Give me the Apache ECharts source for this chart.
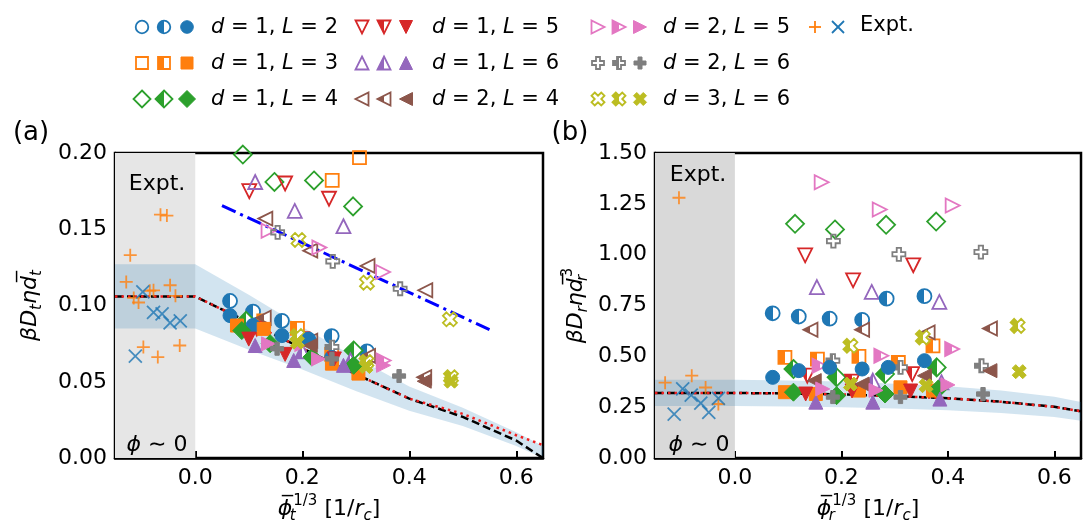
<!DOCTYPE html>
<html><head><meta charset="utf-8">
<script src="https://cdn.jsdelivr.net/npm/echarts@6/dist/echarts.min.js"></script>
<style>html,body{margin:0;padding:0;background:#fff}#c{width:1083px;height:529px}</style>
</head><body><div id="c"></div>
<script>
// ---------------- data ----------------
const xTickVals = [0, 0.2, 0.4, 0.6];
const xRange = [-0.15, 0.65];
const aYRange = [0, 0.2];
const aYStep = 0.05;
const bYRange = [0, 1.5];
const bYStep = 0.25;
const grayX = [-0.15, 0];

const curveX  = [-0.15, 0, 0.1, 0.2, 0.3, 0.4, 0.5, 0.6, 0.65];
const aCenter = [0.106, 0.106, 0.089, 0.072, 0.055, 0.039, 0.027, 0.0115, 0.0];
const aDotted = [0.106, 0.106, 0.089, 0.072, 0.055, 0.039, 0.029, 0.015, 0.0085];
const aBandHi = [0.127, 0.127, 0.107, 0.086, 0.066, 0.047, 0.033, 0.017, 0.008];
const aBandLo = [0.085, 0.085, 0.071, 0.058, 0.044, 0.031, 0.021, 0.008, 0.0];
const bCenter = [0.32, 0.32, 0.318, 0.313, 0.305, 0.294, 0.277, 0.252, 0.23];
const bDotted = [0.32, 0.32, 0.318, 0.313, 0.305, 0.294, 0.277, 0.252, 0.23];
const bBandHi = [0.385, 0.385, 0.382, 0.376, 0.366, 0.353, 0.332, 0.302, 0.276];
const bBandLo = [0.256, 0.256, 0.254, 0.250, 0.244, 0.235, 0.222, 0.202, 0.184];
const aFitX = [0.05, 0.55];
const aFitY = [0.1655, 0.0842];

const aExptPlus = [[-0.1215,0.133],[-0.129,0.1155],[-0.115,0.105],[-0.106,0.102],[-0.085,0.1097],[-0.078,0.110],[-0.047,0.1133],[-0.037,0.1064],[-0.097,0.0728],[-0.070,0.0662],[-0.029,0.0738],[-0.065,0.1596],[-0.053,0.159]];
const aExptCross = [[-0.098,0.109],[-0.078,0.0956],[-0.062,0.0945],[-0.047,0.0886],[-0.028,0.090],[-0.112,0.0669]];
const bExptPlus = [[-0.105,1.28],[-0.131,0.371],[-0.081,0.405],[-0.055,0.347],[-0.031,0.266]];
const bExptCross = [[-0.114,0.216],[-0.098,0.34],[-0.082,0.31],[-0.064,0.27],[-0.049,0.225],[-0.031,0.294]];

// panel (a) simulations
const aL2Open = [];
const aL2Half = [[0.065,0.103],[0.108,0.096],[0.162,0.090],[0.255,0.080],[0.321,0.070]];
const aL2Full = [[0.065,0.0934],[0.108,0.087],[0.162,0.0803],[0.212,0.078],[0.255,0.066]];
const aL3Open = [[0.307,0.197],[0.256,0.182]];
const aL3Half = [[0.128,0.090],[0.191,0.085],[0.255,0.068]];
const aL3Full = [[0.078,0.0869],[0.128,0.0847],[0.2555,0.0619],[0.305,0.0554]];
const aL4Open = [[0.089,0.199],[0.148,0.181],[0.222,0.182],[0.295,0.165]];
const aL4Half = [[0.296,0.0706],[0.095,0.090]];
const aL4Full = [[0.087,0.0836],[0.140,0.075],[0.218,0.0662],[0.296,0.0608]];
const aD1L5Open = [[0.101,0.175],[0.168,0.180],[0.250,0.170]];
const aD1L5Half = [[0.115,0.085],[0.200,0.078]];
const aD1L5Full = [[0.100,0.078],[0.168,0.068],[0.26,0.065]];
const aD1L6Open = [[0.112,0.181],[0.186,0.162],[0.277,0.152]];
const aD1L6Half = [[0.200,0.070],[0.290,0.064]];
const aD1L6Full = [[0.112,0.0738],[0.184,0.064],[0.277,0.0608]];
const aD2L4Open = [[0.131,0.157],[0.215,0.136],[0.322,0.126],[0.430,0.110]];
const aD2L4Half = [[0.128,0.092],[0.215,0.077],[0.323,0.067],[0.428,0.053]];
const aD2L4Full = [[0.215,0.0738],[0.428,0.0504]];
const aD2L5Open = [[0.137,0.149],[0.232,0.138],[0.351,0.122]];
const aD2L5Half = [[0.200,0.075],[0.352,0.064]];
const aD2L5Full = [[0.137,0.0749],[0.2305,0.065],[0.352,0.0608]];
const aD2L6Open = [[0.154,0.148],[0.257,0.129],[0.383,0.111]];
const aD2L6Half = [[0.2555,0.0728]];
const aD2L6Full = [[0.153,0.0717],[0.2555,0.065],[0.381,0.0538]];
const aD3L6Open = [[0.193,0.143],[0.321,0.115],[0.476,0.091]];
const aD3L6Half = [[0.191,0.080],[0.320,0.063],[0.478,0.053]];
const aD3L6Full = [[0.191,0.076],[0.319,0.060],[0.478,0.0504]];

// panel (b) simulations
const bL2Open = [];
const bL2Half = [[0.071,0.712],[0.120,0.696],[0.178,0.686],[0.239,0.680],[0.285,0.784],[0.356,0.796]];
const bL2Full = [[0.071,0.397],[0.120,0.430],[0.178,0.446],[0.239,0.438],[0.288,0.446],[0.356,0.479]];
const bL3Open = [];
const bL3Half = [[0.094,0.495],[0.155,0.487],[0.233,0.500],[0.307,0.470],[0.372,0.552]];
const bL3Full = [[0.094,0.324],[0.152,0.315],[0.233,0.332],[0.311,0.348],[0.372,0.332]];
const bL4Open = [[0.113,1.152],[0.188,1.124],[0.284,1.147],[0.378,1.163]];
const bL4Half = [[0.110,0.438],[0.191,0.397],[0.282,0.413],[0.379,0.446]];
const bL4Full = [[0.110,0.324],[0.191,0.307],[0.282,0.315],[0.382,0.340]];
const bD1L5Open = [[0.132,0.997],[0.222,0.874],[0.335,0.948]];
const bD1L5Half = [[0.136,0.405],[0.220,0.376],[0.333,0.413]];
const bD1L5Full = [[0.133,0.315],[0.220,0.330],[0.330,0.330]];
const bD1L6Open = [[0.154,0.841],[0.257,0.817],[0.384,0.768]];
const bD1L6Half = [[0.259,0.381],[0.388,0.373]];
const bD1L6Full = [[0.152,0.275],[0.259,0.275],[0.385,0.290]];
const bD2L4Open = [];
const bD2L4Half = [[0.142,0.631],[0.239,0.631],[0.362,0.618],[0.479,0.637]];
const bD2L4Full = [[0.149,0.381],[0.239,0.364],[0.356,0.405],[0.479,0.430]];
const bD2L5Open = [[0.163,1.356],[0.272,1.222],[0.409,1.242]];
const bD2L5Half = [[0.159,0.454],[0.275,0.503],[0.408,0.536]];
const bD2L5Full = [[0.165,0.340],[0.265,0.333],[0.400,0.360]];
const bD2L6Open = [[0.185,1.067],[0.308,1.002],[0.462,1.013]];
const bD2L6Half = [[0.184,0.479],[0.311,0.446],[0.463,0.454]];
const bD2L6Full = [[0.184,0.300],[0.311,0.300],[0.466,0.315]];
const bD3L6Open = [];
const bD3L6Half = [[0.217,0.552],[0.353,0.593],[0.531,0.650]];
const bD3L6Full = [[0.217,0.364],[0.359,0.356],[0.534,0.425]];

const modelKeys = ['L2','L3','L4','d1L5','d1L6','d2L4','d2L5','d2L6','d3L6'];
const modelD = ['1','1','1','1','1','2','2','2','3'];
const modelL = ['2','3','4','5','6','4','5','6','6'];

// ---------------- styles ----------------
const FONT = 'DejaVu Sans';
const COLORS = {L2:'#1f77b4', L3:'#ff7f0e', L4:'#2ca02c', d1L5:'#d62728', d1L6:'#9467bd', d2L4:'#8c564b', d2L5:'#e377c2', d2L6:'#7f7f7f', d3L6:'#bcbd22'};
const PATHS = {
  L3:'M0,0L2,0L2,2L0,2Z',
  L4:'M1,0L2,1L1,2L0,1Z',
  d1L5:'M0,0L2,0L1,2Z',
  d1L6:'M1,0L2,2L0,2Z',
  d2L4:'M2,0L2,2L0,1Z',
  d2L5:'M0,0L0,2L2,1Z',
  d2L6:'M2,0L4,0L4,2L6,2L6,4L4,4L4,6L2,6L2,4L0,4L0,2L2,2Z',
  d3L6:'M1,0L2,1L3,0L4,1L3,2L4,3L3,4L2,3L1,4L0,3L1,2L0,1Z'
};
const PLUS_PATH = 'M1,0L1,2M0,1L2,1';
const CROSS_PATH = 'M0,0L2,2M2,0L0,2';
const SIZE = {L2:14, L3:13, L4:18, d1L5:14, d1L6:14, d2L4:14, d2L5:14, d2L6:13, d3L6:14};
const symOf = k => k === 'L2' ? 'circle' : 'path://' + PATHS[k];

function fillFor(c, v) {
  if (v === 'open') return 'rgba(255,255,255,0)';
  if (v === 'half') return {type:'linear', x:0, y:0, x2:1, y2:0, global:false, colorStops:[
    {offset:0, color:c},{offset:0.5, color:c},{offset:0.5, color:'#fff'},{offset:1, color:'#fff'}]};
  return c;
}
function itemStyleFor(k, v) {
  const c = COLORS[k];
  return {color: fillFor(c, v), borderColor: c, borderWidth: v === 'full' ? 1 : 1.8, opacity: 1};
}

const tableA = {
  L2:{open:aL2Open, half:aL2Half, full:aL2Full}, L3:{open:aL3Open, half:aL3Half, full:aL3Full},
  L4:{open:aL4Open, half:aL4Half, full:aL4Full}, d1L5:{open:aD1L5Open, half:aD1L5Half, full:aD1L5Full},
  d1L6:{open:aD1L6Open, half:aD1L6Half, full:aD1L6Full}, d2L4:{open:aD2L4Open, half:aD2L4Half, full:aD2L4Full},
  d2L5:{open:aD2L5Open, half:aD2L5Half, full:aD2L5Full}, d2L6:{open:aD2L6Open, half:aD2L6Half, full:aD2L6Full},
  d3L6:{open:aD3L6Open, half:aD3L6Half, full:aD3L6Full}
};
const tableB = {
  L2:{open:bL2Open, half:bL2Half, full:bL2Full}, L3:{open:bL3Open, half:bL3Half, full:bL3Full},
  L4:{open:bL4Open, half:bL4Half, full:bL4Full}, d1L5:{open:bD1L5Open, half:bD1L5Half, full:bD1L5Full},
  d1L6:{open:bD1L6Open, half:bD1L6Half, full:bD1L6Full}, d2L4:{open:bD2L4Open, half:bD2L4Half, full:bD2L4Full},
  d2L5:{open:bD2L5Open, half:bD2L5Half, full:bD2L5Full}, d2L6:{open:bD2L6Open, half:bD2L6Half, full:bD2L6Full},
  d3L6:{open:bD3L6Open, half:bD3L6Half, full:bD3L6Full}
};

function panelSeries(gi, yMax, center, dotted, hi, lo, exPlus, exCross, table) {
  const s = [];
  s.push({type:'custom', xAxisIndex:gi, yAxisIndex:gi, data:[[0,0]], z:1, silent:true, clip:true,
    renderItem:(p, api) => {
      const a = api.coord([grayX[0], yMax]), b = api.coord([grayX[1], 0]);
      return {type:'rect', shape:{x:a[0], y:a[1], width:b[0]-a[0], height:b[1]-a[1]},
        style:{fill: gi === 0 ? '#e6e6e6' : '#d9d9d9'}};
    }});
  s.push({type:'custom', xAxisIndex:gi, yAxisIndex:gi, data:[[0,0]], z:2, silent:true, clip:true,
    renderItem:(p, api) => {
      const pts = [];
      curveX.forEach((x, i) => pts.push(api.coord([x, hi[i]])));
      for (let i = curveX.length - 1; i >= 0; i--) pts.push(api.coord([curveX[i], lo[i]]));
      return {type:'polygon', shape:{points:pts}, style:{fill:'rgba(31,119,180,0.2)'}};
    }});
  s.push({type:'line', xAxisIndex:gi, yAxisIndex:gi, z:3, silent:true, showSymbol:false,
    data: curveX.map((x, i) => [x, center[i]]),
    lineStyle:{color:'#000', width:2.5, type:[8,4]}});
  s.push({type:'line', xAxisIndex:gi, yAxisIndex:gi, z:3, silent:true, showSymbol:false,
    data: curveX.map((x, i) => [x, dotted[i]]),
    lineStyle:{color:'#f01e1e', width:2.5, type:[2.5,4], cap:'butt'}});
  if (gi === 0) {
    s.push({type:'line', xAxisIndex:0, yAxisIndex:0, z:3, silent:true, showSymbol:false,
      data: aFitX.map((x, i) => [x, aFitY[i]]),
      lineStyle:{color:'#0000ff', width:3, type:[15,5,3,5]}});
  }
  s.push({type:'scatter', xAxisIndex:gi, yAxisIndex:gi, z:4, silent:true, data:exPlus,
    symbol:'path://' + PLUS_PATH, symbolSize:13,
    itemStyle:{color:'rgba(0,0,0,0)', borderColor:'#ff7f0e', borderWidth:1.8}});
  s.push({type:'scatter', xAxisIndex:gi, yAxisIndex:gi, z:4, silent:true, data:exCross,
    symbol:'path://' + CROSS_PATH, symbolSize:13,
    itemStyle:{color:'rgba(0,0,0,0)', borderColor:'#1f77b4', borderWidth:1.8}});
  ['open','half','full'].forEach(v => {
    modelKeys.forEach(k => {
      const pts = table[k][v];
      if (!pts.length) return;
      s.push({type:'scatter', xAxisIndex:gi, yAxisIndex:gi, z:5, silent:true, data:pts,
        symbol:symOf(k), symbolSize:SIZE[k], itemStyle:itemStyleFor(k, v)});
    });
  });
  return s;
}

const nameRich = {
  i:{fontStyle:'italic', fontSize:22, fontFamily:FONT, lineHeight:30, color:'#000'},
  n:{fontSize:22, fontFamily:FONT, lineHeight:30, color:'#000'},
  sub:{fontStyle:'italic', fontSize:15, fontFamily:FONT, lineHeight:15, verticalAlign:'bottom', color:'#000'},
  subz:{fontStyle:'italic', fontSize:15, fontFamily:FONT, lineHeight:15, verticalAlign:'bottom', width:1, color:'#000'},
  sup:{fontSize:15, fontFamily:FONT, lineHeight:15, verticalAlign:'top', color:'#000'}
};

function xAxisCfg(gi, sub) {
  return {type:'value', gridIndex:gi, min:xRange[0], max:xRange[1],
    axisLine:{show:true, onZero:false, lineStyle:{color:'#000', width:2.5}},
    axisTick:{show:true, inside:true, length:7, customValues:xTickVals, lineStyle:{color:'#000', width:2}},
    axisLabel:{customValues:xTickVals, formatter:v => v.toFixed(1), fontSize:22, fontFamily:FONT, color:'#000', margin:9},
    splitLine:{show:false},
    name:'{i|ϕ\u0305}{subz|' + sub + '}{sup|1/3}{n| [1/}{i|r}{sub|c}{n|]}',
    nameLocation:'middle', nameGap:28, nameTextStyle:{rich:nameRich}};
}
function yAxisCfg(gi, range, step, digits, name, gap) {
  return {type:'value', gridIndex:gi, min:range[0], max:range[1], interval:step,
    axisLine:{show:true, onZero:false, lineStyle:{color:'#000', width:2.5}},
    axisTick:{show:true, inside:true, length:7, lineStyle:{color:'#000', width:2}},
    axisLabel:{formatter:v => v.toFixed(digits), fontSize:22, fontFamily:FONT, color:'#000', margin:8},
    splitLine:{show:false},
    name:name, nameLocation:'middle', nameGap:gap, nameTextStyle:{rich:nameRich}};
}

// ---------------- legend / annotations (graphic) ----------------
const graphics = [];
function pathPoints(d) {
  const nums = d.replace(/[MLZ]/g, ' ').trim().split(/[\s,]+/).map(Number);
  const pts = [];
  for (let i = 0; i < nums.length; i += 2) pts.push([nums[i], nums[i + 1]]);
  return pts;
}
function legendMarker(k, v, cx, cy) {
  const c = COLORS[k];
  const fill = fillFor(c, v);
  const lw = v === 'full' ? 1 : 1.8;
  if (k === 'L2') {
    graphics.push({type:'circle', shape:{cx:cx, cy:cy, r:6.3}, style:{fill:fill, stroke:c, lineWidth:lw}});
  } else {
    const s = SIZE[k] - 1;
    const raw = pathPoints(PATHS[k]);
    const mx = Math.max.apply(null, raw.map(p => p[0]));
    const my = Math.max.apply(null, raw.map(p => p[1]));
    const pts = raw.map(p => [cx - s/2 + p[0] / mx * s, cy - s/2 + p[1] / my * s]);
    graphics.push({type:'polygon', shape:{points:pts}, style:{fill:fill, stroke:c, lineWidth:lw}});
  }
}
const legRows = [27, 63, 99];
const legCols = [[142,164,187,211],[362,384,406,432],[598,619,640,663]];
const LEG_FS = 21;
modelKeys.forEach((k, i) => {
  const col = legCols[Math.floor(i / 3)], y = legRows[i % 3];
  legendMarker(k, 'open', col[0], y);
  legendMarker(k, 'half', col[1], y);
  legendMarker(k, 'full', col[2], y);
  graphics.push({type:'text', x:col[3], y:y + 1, style:{text:'{i|d} = ' + modelD[i] + ', {i|L} = ' + modelL[i],
    fontSize:LEG_FS, fontFamily:FONT, fill:'#000', verticalAlign:'middle', align:'left',
    rich:{i:{fontStyle:'italic', fontSize:LEG_FS, fontFamily:FONT}}}});
});
function lineEl(x1, y1, x2, y2, c) {
  graphics.push({type:'line', shape:{x1:x1, y1:y1, x2:x2, y2:y2}, style:{stroke:c, lineWidth:1.8}});
}
lineEl(815, 21, 815, 33, '#ff7f0e'); lineEl(809, 27, 821, 27, '#ff7f0e');
lineEl(832, 21, 844, 33, '#1f77b4'); lineEl(844, 21, 832, 33, '#1f77b4');
graphics.push({type:'text', x:860, y:26, style:{text:'Expt.', fontSize:LEG_FS, fontFamily:FONT, fill:'#000', verticalAlign:'middle'}});

function txt(t, x, y, size, align, rich) {
  const st = {text:t, fontSize:size, fontFamily:FONT, fill:'#000', align:align || 'center', verticalAlign:'middle'};
  if (rich) st.rich = rich;
  graphics.push({type:'text', x:x, y:y, z:100, style:st});
}
txt('(a)', 31, 133, 26);
txt('(b)', 570, 133, 26);
txt('Expt.', 157, 184, 22);
txt('Expt.', 698, 175, 22);
const phiRich = {i:{fontStyle:'italic', fontSize:22, fontFamily:FONT}};
txt('{i|ϕ} ∼ 0', 157, 445, 22, 'center', phiRich);
txt('{i|ϕ} ∼ 0', 699, 445, 22, 'center', phiRich);

// ---------------- chart ----------------
const chart = echarts.init(document.getElementById('c'));
chart.setOption({
  animation:false,
  backgroundColor:'#fff',
  textStyle:{fontFamily:FONT},
  grid:[
    {left:115, top:153, width:428, height:307, show:true, borderColor:'#000', borderWidth:2.5, backgroundColor:'transparent'},
    {left:655, top:153, width:426, height:307, show:true, borderColor:'#000', borderWidth:2.5, backgroundColor:'transparent'}
  ],
  xAxis:[xAxisCfg(0, 't'), xAxisCfg(1, 'r')],
  yAxis:[
    yAxisCfg(0, aYRange, aYStep, 2, '{i|βD}{sub|t}{i|η}{i|d\u0305}{sub|t}', 70),
    yAxisCfg(1, bYRange, bYStep, 2, '{i|βD}{sub|r}{i|η}{i|d\u0305}{subz|r}{sup|3}', 64)
  ],
  series:[].concat(
    panelSeries(0, aYRange[1], aCenter, aDotted, aBandHi, aBandLo, aExptPlus, aExptCross, tableA),
    panelSeries(1, bYRange[1], bCenter, bDotted, bBandHi, bBandLo, bExptPlus, bExptCross, tableB)
  ),
  graphic:graphics
});
</script></body></html>
